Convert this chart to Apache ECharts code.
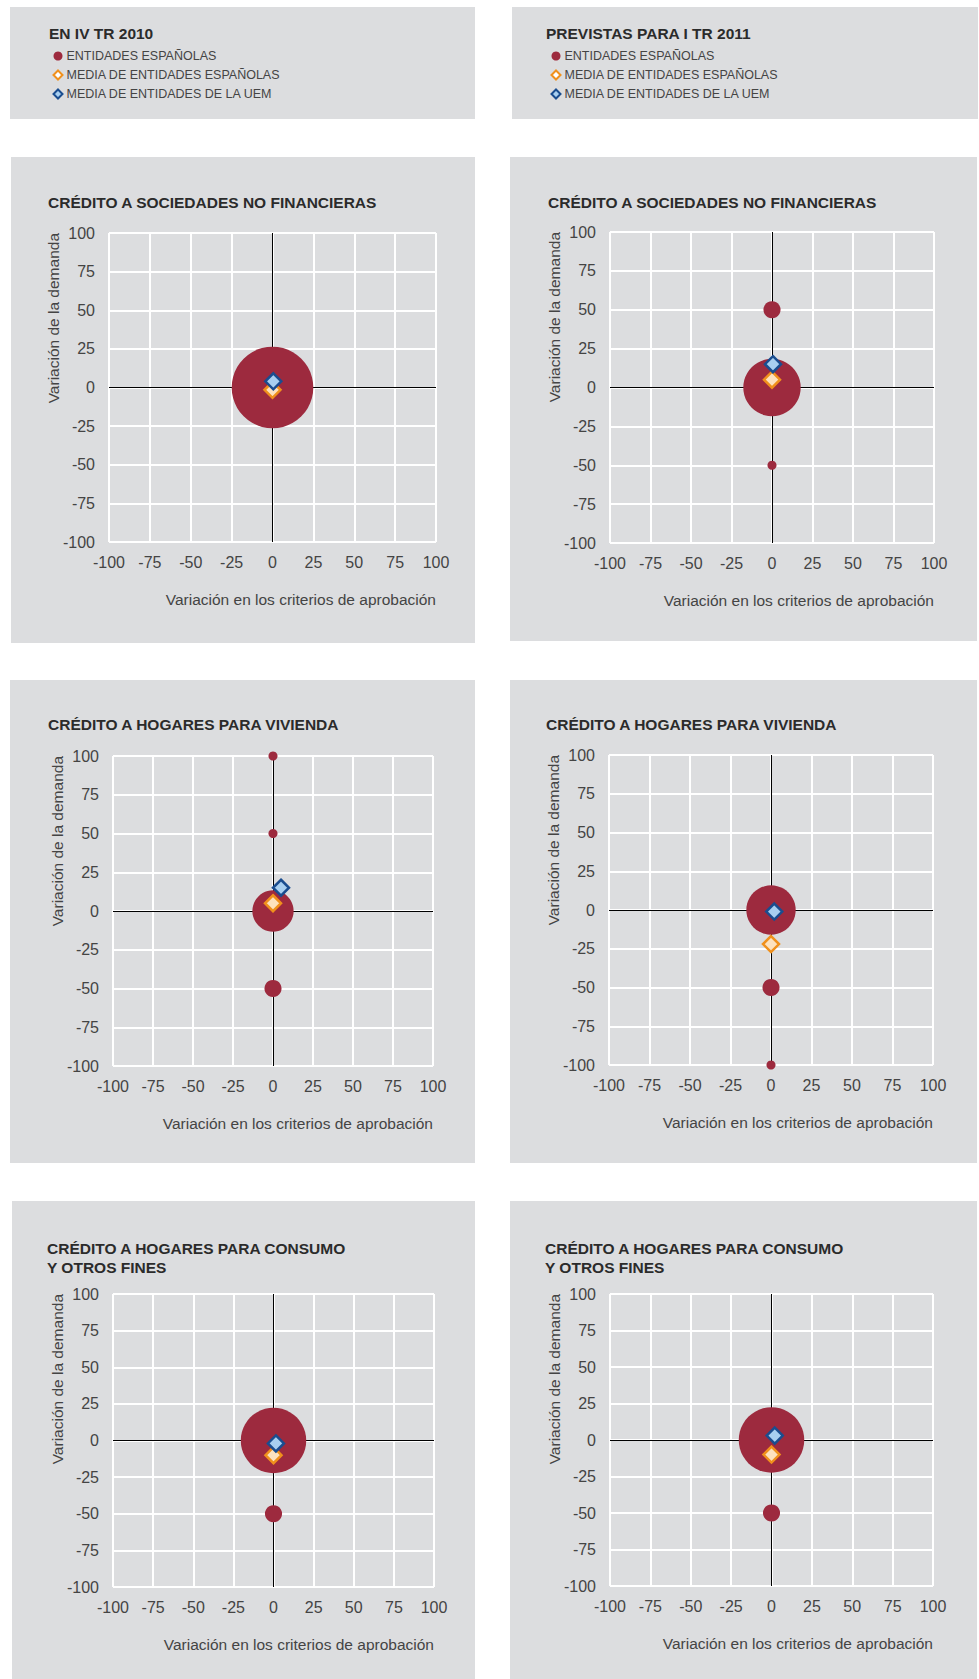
<!DOCTYPE html>
<html>
<head>
<meta charset="utf-8">
<script src="https://cdn.jsdelivr.net/npm/echarts@6/dist/echarts.min.js"></script>
<style>
html,body{margin:0;padding:0;background:#ffffff;}
#chart{width:979px;height:1679px;}
</style>
</head>
<body>
<div id="chart"></div>
<script>
// ---------- DATA ----------
// Each point: [variación en los criterios de aprobación, variación de la demanda, peso (% de entidades)]
const headerTitles = ['EN IV TR 2010', 'PREVISTAS PARA I TR 2011'];
const seriesNames = ['ENTIDADES ESPAÑOLAS', 'MEDIA DE ENTIDADES ESPAÑOLAS', 'MEDIA DE ENTIDADES DE LA UEM'];
const panelTitles = [
  'CRÉDITO A SOCIEDADES NO FINANCIERAS',
  'CRÉDITO A SOCIEDADES NO FINANCIERAS',
  'CRÉDITO A HOGARES PARA VIVIENDA',
  'CRÉDITO A HOGARES PARA VIVIENDA',
  'CRÉDITO A HOGARES PARA CONSUMO\nY OTROS FINES',
  'CRÉDITO A HOGARES PARA CONSUMO\nY OTROS FINES'
];
const xAxisName = 'Variación en los criterios de aprobación';
const yAxisName = 'Variación de la demanda';
const axisMin = -100, axisMax = 100, axisStep = 25;

// Sociedades no financieras
const banksSNF2010 = [[0, 0, 100]];
const meanES_SNF2010 = [[0, -1.5]];
const meanUEM_SNF2010 = [[0.5, 4]];
const banksSNF2011 = [[0, 0, 70], [0, 50, 20], [0, -50, 10]];
const meanES_SNF2011 = [[0, 5]];
const meanUEM_SNF2011 = [[0.6, 15]];
// Hogares para vivienda
const banksVIV2010 = [[0, 100, 10], [0, 50, 10], [0, 0, 50], [0, -50, 20]];
const meanES_VIV2010 = [[0, 5]];
const meanUEM_VIV2010 = [[5, 15]];
const banksVIV2011 = [[0, 0, 60], [0, -50, 20], [0, -100, 10]];
const meanES_VIV2011 = [[0, -22]];
const meanUEM_VIV2011 = [[2, -1]];
// Hogares para consumo y otros fines
const banksCON2010 = [[0, 0, 80], [0, -50, 20]];
const meanES_CON2010 = [[0, -10]];
const meanUEM_CON2010 = [[1.5, -2]];
const banksCON2011 = [[0, 0, 80], [0, -50, 20]];
const meanES_CON2011 = [[0, -10]];
const meanUEM_CON2011 = [[2, 3]];

const panelBanks = [banksSNF2010, banksSNF2011, banksVIV2010, banksVIV2011, banksCON2010, banksCON2011];
const panelMeanES = [meanES_SNF2010, meanES_SNF2011, meanES_VIV2010, meanES_VIV2011, meanES_CON2010, meanES_CON2011];
const panelMeanUEM = [meanUEM_SNF2010, meanUEM_SNF2011, meanUEM_VIV2010, meanUEM_VIV2011, meanUEM_CON2010, meanUEM_CON2011];

// ---------- LAYOUT / STYLE ----------
const FONT = '"Liberation Sans", Arial, sans-serif';
const PANEL_BG = '#dcdddf';
const RED = '#9d2a3e';
const ORANGE = '#f0901c', ORANGE_FILL = '#fde2bf';
const BLUE = '#1a4d8f', BLUE_FILL = '#a8cff0';

const headerRects = [[10, 7, 465, 112], [512, 7, 466, 112]];
const headerTitlePos = [[49, 23.5], [546, 23.5]];
const legendPos = [[52.5, 49], [550.5, 49]];
const panelRects = [
  [11, 157, 464, 486], [510, 157, 467, 484],
  [10, 680, 465, 483], [510, 680, 467, 483],
  [12, 1201, 463, 478], [510, 1201, 467, 478]
];
const titlePos = [[48, 192.5], [548, 192.5], [48, 714.5], [546, 714.5], [47, 1238.5], [545, 1238.5]];
const grids = [
  {left: 109, top: 233, width: 327, height: 309},
  {left: 610, top: 232, width: 324, height: 311},
  {left: 113, top: 756, width: 320, height: 310},
  {left: 609, top: 755, width: 324, height: 310},
  {left: 113, top: 1294, width: 321, height: 293},
  {left: 610, top: 1294, width: 323, height: 292}
];

function bubbleSize(d) { return 2 * (0.5 + 0.403 * d[2]); }

const graphics = [];
headerRects.concat(panelRects).forEach(r => {
  graphics.push({type: 'rect', silent: true, z: -10, shape: {x: r[0], y: r[1], width: r[2], height: r[3]}, style: {fill: PANEL_BG}});
});

const titles = [];
headerTitles.forEach((t, i) => {
  titles.push({text: t, left: headerTitlePos[i][0], top: headerTitlePos[i][1], padding: 0,
    textStyle: {fontFamily: FONT, fontSize: 15.5, fontWeight: 'bold', color: '#2b2b2b', lineHeight: 19}});
});
panelTitles.forEach((t, i) => {
  titles.push({text: t, left: titlePos[i][0], top: titlePos[i][1], padding: 0,
    textStyle: {fontFamily: FONT, fontSize: 15.5, fontWeight: 'bold', color: '#2b2b2b', lineHeight: 19}});
});

const legendData = [
  {name: seriesNames[0], icon: 'circle', itemStyle: {color: RED, borderWidth: 0}},
  {name: seriesNames[1], icon: 'diamond', itemStyle: {color: '#ffffff', borderColor: ORANGE, borderWidth: 2}},
  {name: seriesNames[2], icon: 'diamond', itemStyle: {color: BLUE_FILL, borderColor: BLUE, borderWidth: 2}}
];
const legends = legendPos.map(p => ({
  left: p[0], top: p[1], orient: 'vertical', padding: 0, itemGap: 5, itemWidth: 9, itemHeight: 9,
  selectedMode: false, data: legendData,
  textStyle: {fontFamily: FONT, fontSize: 12.5, color: '#444', lineHeight: 14, padding: [0, 0, 0, -1]}
}));

const xAxes = [], yAxes = [], series = [];
grids.forEach((g, i) => {
  xAxes.push({
    type: 'value', gridIndex: i, min: axisMin, max: axisMax, interval: axisStep,
    name: xAxisName, nameLocation: 'end', nameGap: 0,
    nameTextStyle: {fontFamily: FONT, fontSize: 15.5, color: '#444', align: 'right', verticalAlign: 'top', padding: [49, 0, 0, 0]},
    axisLine: {show: false, onZero: false}, axisTick: {show: false},
    axisLabel: {fontFamily: FONT, fontSize: 16, color: '#444', margin: 12},
    splitLine: {show: true, lineStyle: {color: '#ffffff', width: 2}}
  });
  yAxes.push({
    type: 'value', gridIndex: i, min: axisMin, max: axisMax, interval: axisStep,
    name: yAxisName, nameLocation: 'end', nameGap: 0, nameRotate: 90,
    nameTextStyle: {fontFamily: FONT, fontSize: 15.5, color: '#444', align: 'right', verticalAlign: 'bottom', padding: [0, 0, 48, 0]},
    axisLine: {show: false, onZero: false}, axisTick: {show: false},
    axisLabel: {fontFamily: FONT, fontSize: 16, color: '#444', margin: 14},
    splitLine: {show: true, lineStyle: {color: '#ffffff', width: 2}}
  });
  series.push({
    type: 'scatter', name: '', xAxisIndex: i, yAxisIndex: i, data: [], z: 1, silent: true,
    markLine: {silent: true, z: 1, symbol: ['none', 'none'], animation: false, label: {show: false},
      lineStyle: {color: '#000000', width: 1, type: 'solid'},
      emphasis: {disabled: true},
      data: [{xAxis: 0}, {yAxis: 0}]}
  });
  series.push({
    type: 'scatter', name: seriesNames[0], xAxisIndex: i, yAxisIndex: i, z: 3,
    data: panelBanks[i], symbol: 'circle', symbolSize: bubbleSize,
    itemStyle: {color: RED, opacity: 1}, emphasis: {disabled: true}
  });
  series.push({
    type: 'scatter', name: seriesNames[1], xAxisIndex: i, yAxisIndex: i, z: 4,
    data: panelMeanES[i], symbol: 'diamond', symbolSize: 16,
    itemStyle: {color: ORANGE_FILL, borderColor: ORANGE, borderWidth: 2.5, opacity: 1}, emphasis: {disabled: true}
  });
  series.push({
    type: 'scatter', name: seriesNames[2], xAxisIndex: i, yAxisIndex: i, z: 5,
    data: panelMeanUEM[i], symbol: 'diamond', symbolSize: 16,
    itemStyle: {color: BLUE_FILL, borderColor: BLUE, borderWidth: 2.5, opacity: 1}, emphasis: {disabled: true}
  });
});

const chart = echarts.init(document.getElementById('chart'), null, {renderer: 'svg', width: 979, height: 1679});
chart.setOption({
  backgroundColor: '#ffffff',
  animation: false,
  graphic: graphics,
  title: titles,
  legend: legends,
  grid: grids,
  xAxis: xAxes,
  yAxis: yAxes,
  series: series
});
</script>
</body>
</html>
